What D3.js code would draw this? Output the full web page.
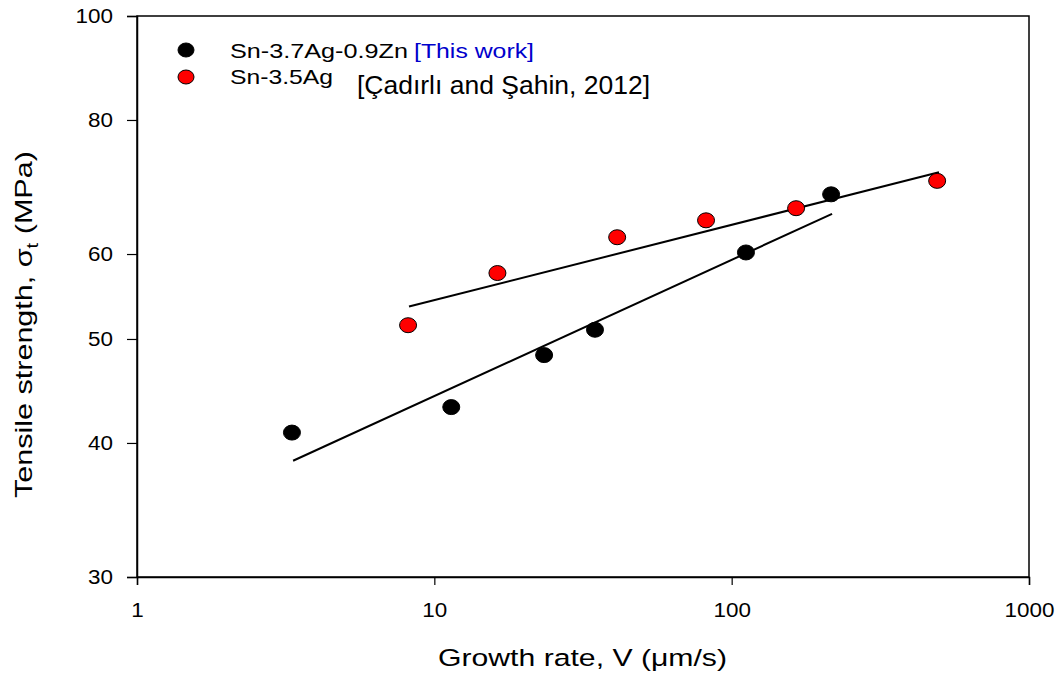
<!DOCTYPE html>
<html>
<head>
<meta charset="utf-8">
<script src="https://cdn.jsdelivr.net/npm/d3@7"></script>
<style>
  body { margin: 0; background: #fff; }
  text { font-family: "Liberation Sans", Arial, Helvetica, sans-serif; }
</style>
</head>
<body>
<div id="chart-area"></div>
<script>
// growth rate V (um/s) and tensile strength (MPa)
var znRate = [3.32, 11.4, 23.4, 34.7, 111.7, 216];
var znStrength = [40.9, 43.2, 48.3, 51.0, 60.2, 68.2];
var agRate = [8.16, 16.3, 41.2, 82.0, 164.7, 491];
var agStrength = [51.5, 57.6, 62.2, 64.5, 66.2, 70.2];

// fitted lines (end points)
var znFitRate = [3.35, 217.6];
var znFitStrength = [38.5, 65.4];
var agFitRate = [8.22, 498];
var agFitStrength = [53.6, 71.5];

var xTicks = [1, 10, 100, 1000];
var yTicks = [30, 40, 50, 60, 80, 100];

var margin = { left: 137, right: 32, top: 16, bottom: 99 };
var width = 1061 - margin.left - margin.right,
    height = 676 - margin.top - margin.bottom;

var svg = d3.select("#chart-area")
  .append("svg")
    .attr("width", 1061)
    .attr("height", 676);

var g = svg.append("g")
  .attr("transform", "translate(" + margin.left + "," + margin.top + ")");

var x = d3.scaleLog().domain([1, 1000]).range([0, width]);
var y = d3.scaleLog().domain([30, 100]).range([height, 0]);

// the original font is a bit wider than Liberation Sans
function widen(sel, k) {
  sel.each(function () {
    var w = this.getComputedTextLength();
    d3.select(this).attr("textLength", w * k).attr("lengthAdjust", "spacingAndGlyphs");
  });
}

// frame
g.append("rect")
  .attr("width", width)
  .attr("height", height)
  .attr("fill", "none")
  .attr("stroke", "#000")
  .attr("stroke-width", 1.5);

var xAxis = d3.axisBottom(x).tickValues(xTicks).tickFormat(d3.format("d"))
  .tickSize(8).tickPadding(18);
var yAxis = d3.axisLeft(y).tickValues(yTicks).tickFormat(d3.format("d"))
  .tickSize(10).tickPadding(14);

g.append("g")
  .attr("class", "x-axis")
  .attr("transform", "translate(0," + height + ")")
  .call(xAxis);

g.append("g")
  .attr("class", "y-axis")
  .call(yAxis);

g.selectAll(".domain").attr("stroke-width", 1.5);
g.selectAll(".tick line").attr("stroke-width", 1.2);
g.selectAll(".tick text")
  .attr("font-size", 19.5)
  .attr("font-family", "'Liberation Sans', Arial, sans-serif")
  .attr("fill", "#000")
  .call(widen, 1.15);

// fit lines
var line = d3.line().x(d => x(d[0])).y(d => y(d[1]));
[[znFitRate, znFitStrength], [agFitRate, agFitStrength]].forEach(function (f) {
  g.append("path")
    .datum(d3.zip(f[0], f[1]))
    .attr("d", line)
    .attr("fill", "none")
    .attr("stroke", "#000")
    .attr("stroke-width", 2);
});

// points
function dots(rates, vals, color) {
  g.selectAll(null)
    .data(d3.zip(rates, vals))
    .enter()
    .append("ellipse")
      .attr("cx", d => x(d[0]))
      .attr("cy", d => y(d[1]))
      .attr("rx", 8.5)
      .attr("ry", 7.5)
      .attr("fill", color)
      .attr("stroke", "#000")
      .attr("stroke-width", 1);
}
dots(znRate, znStrength, "#000");
dots(agRate, agStrength, "#ff0000");

// legend
svg.append("ellipse").attr("cx", 186).attr("cy", 50).attr("rx", 8).attr("ry", 7)
  .attr("fill", "#000").attr("stroke", "#000");
svg.append("ellipse").attr("cx", 186).attr("cy", 77).attr("rx", 8).attr("ry", 7)
  .attr("fill", "#ff0000").attr("stroke", "#000");

svg.append("text").attr("x", 230).attr("y", 58).attr("font-size", 21)
  .attr("textLength", 178).attr("lengthAdjust", "spacingAndGlyphs")
  .text("Sn-3.7Ag-0.9Zn");
svg.append("text").attr("x", 414).attr("y", 58).attr("font-size", 21)
  .attr("fill", "#0000cc")
  .attr("textLength", 120).attr("lengthAdjust", "spacingAndGlyphs")
  .text("[This work]");
svg.append("text").attr("x", 230).attr("y", 84).attr("font-size", 21)
  .attr("textLength", 103).attr("lengthAdjust", "spacingAndGlyphs")
  .text("Sn-3.5Ag");
svg.append("text").attr("x", 357).attr("y", 94).attr("font-size", 26)
  .attr("textLength", 293).attr("lengthAdjust", "spacingAndGlyphs")
  .text("[Çadırlı and Şahin, 2012]");

// axis titles
svg.append("text")
  .attr("x", 438)
  .attr("y", 666)
  .attr("font-size", 24.5)
  .attr("textLength", 289).attr("lengthAdjust", "spacingAndGlyphs")
  .text("Growth rate, V (μm/s)");

var yt = svg.append("text")
  .attr("transform", "translate(32,498) rotate(-90)")
  .attr("font-size", 24);
yt.append("tspan").text("Tensile strength, σ");
yt.append("tspan").attr("font-size", 16).attr("dy", 6).text("t");
yt.append("tspan").attr("dy", -6).text(" (MPa)");
var ytw = yt.node().getComputedTextLength();
yt.attr("transform", "translate(32,498) rotate(-90) scale(" + (347 / ytw) + ",1)");
</script>
</body>
</html>
